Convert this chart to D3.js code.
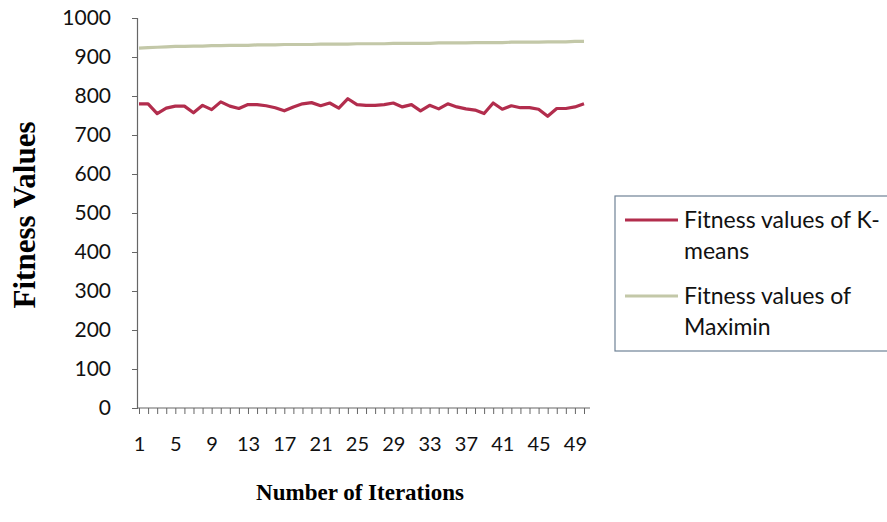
<!DOCTYPE html>
<html>
<head>
<meta charset="utf-8">
<script src="https://cdn.jsdelivr.net/npm/d3@7"></script>
<style>
  body { margin: 0; background: #fff; }
  svg { display: block; }
  .tick text { font-family: Lato, "Open Sans", sans-serif; font-size: 20px; fill: #111; }
</style>
</head>
<body>
<div id="chart"></div>
<script>
// iterations 1..50
var iterations = d3.range(1, 51);

var kmeansValues = [
  780, 780, 755, 769, 774, 774, 757, 776, 765, 785,
  774, 768, 778, 778, 775, 770, 762, 772, 780, 783,
  775, 782, 769, 793, 778, 776, 776, 778, 782, 772,
  778, 762, 776, 767, 780, 772, 767, 764, 755, 782,
  766, 775, 770, 770, 766, 748, 768, 768, 772, 780
];

var maximinValues = [
  923, 924, 925, 926, 927, 927, 928, 928, 929, 929,
  930, 930, 930, 931, 931, 931, 932, 932, 932, 932,
  933, 933, 933, 933, 934, 934, 934, 934, 935, 935,
  935, 935, 935, 936, 936, 936, 936, 937, 937, 937,
  937, 938, 938, 938, 938, 939, 939, 939, 940, 940
];

var yTicks = [0, 100, 200, 300, 400, 500, 600, 700, 800, 900, 1000];
var seriesColors = ['#b22d4d', '#c3c8a8'];

var width = 887;
var height = 522;

var svg = d3.select('#chart')
  .append('svg')
  .attr('width', width)
  .attr('height', height);

var x = d3.scalePoint()
  .domain(iterations)
  .range([139, 584]);

var y = d3.scaleLinear()
  .domain([0, 1000])
  .range([408, 18]);

// x axis
var xAxis = svg.append('g')
  .attr('transform', 'translate(0,' + y(0) + ')')
  .call(d3.axisBottom(x)
    .tickSize(6)
    .tickPadding(23)
    .tickFormat(function (d) { return (d - 1) % 4 === 0 ? d : ''; }));
xAxis.select('.domain').remove();
xAxis.selectAll('line').attr('stroke', '#666');
xAxis.append('line')
  .attr('x1', x(1) - 2)
  .attr('x2', x(50) + 6)
  .attr('stroke', '#666')
  .attr('stroke-width', 1.2);

// y axis
var yAxis = svg.append('g')
  .attr('transform', 'translate(' + (x(1) - 2) + ',0)')
  .call(d3.axisLeft(y)
    .tickValues(yTicks)
    .tickFormat(d3.format('d'))
    .tickSize(5)
    .tickPadding(21));
yAxis.select('.domain').attr('stroke', '#666').attr('stroke-width', 1.2);
yAxis.selectAll('line').attr('stroke', '#666');
yAxis.selectAll('text').style('font-size', '21px');

// lines
var line = d3.line()
  .x(function (d, i) { return x(iterations[i]); })
  .y(function (d) { return y(d); });

[kmeansValues, maximinValues].forEach(function (vals, k) {
  svg.append('path')
    .datum(vals)
    .attr('fill', 'none')
    .attr('stroke', seriesColors[k])
    .attr('stroke-width', 3.2)
    .attr('stroke-linejoin', 'round')
    .attr('d', line);
});

// axis titles
svg.append('text')
  .attr('x', 360)
  .attr('y', 500)
  .attr('text-anchor', 'middle')
  .style('font-family', '"Liberation Serif", "Times New Roman", serif')
  .style('font-weight', 'bold')
  .style('font-size', '23px')
  .text('Number of Iterations');

svg.append('text')
  .attr('transform', 'translate(35,215) rotate(-90)')
  .attr('text-anchor', 'middle')
  .style('font-family', '"Liberation Serif", "Times New Roman", serif')
  .style('font-weight', 'bold')
  .style('font-size', '31px')
  .text('Fitness Values');

// legend
var legend = svg.append('g');
legend.append('rect')
  .attr('x', 615)
  .attr('y', 196)
  .attr('width', 290)
  .attr('height', 155)
  .attr('fill', '#fff')
  .attr('stroke', '#6f8296')
  .attr('stroke-width', 1.2);

var legendLines = [
  ['Fitness values of K-', 'means'],
  ['Fitness values of', 'Maximin']
];
legendLines.forEach(function (rows, k) {
  var top = 220 + k * 76;
  legend.append('line')
    .attr('x1', 625)
    .attr('x2', 678)
    .attr('y1', top)
    .attr('y2', top)
    .attr('stroke', seriesColors[k])
    .attr('stroke-width', 3.2);
  rows.forEach(function (r, j) {
    legend.append('text')
      .attr('x', 684)
      .attr('y', top + 8 + j * 31)
      .style('font-family', 'Lato, "Open Sans", sans-serif')
      .style('font-size', '23px')
      .attr('fill', '#111')
      .text(r);
  });
});
</script>
</body>
</html>
